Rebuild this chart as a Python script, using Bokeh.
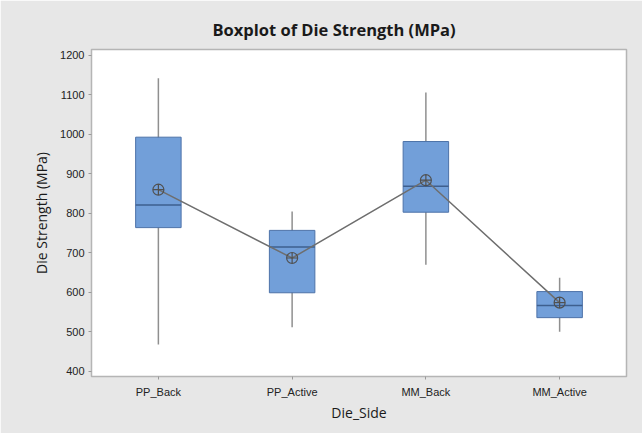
from bokeh.plotting import figure
from bokeh.models import Range1d, FixedTicker, ColumnDataSource
from bokeh.transform import dodge
from bokeh.embed import file_html
from bokeh.resources import INLINE

# ---- data ----
categories = ["PP_Back", "PP_Active", "MM_Back", "MM_Active"]
whisker_low = [468, 512, 670, 500]
q1 = [764, 599, 803, 536]
median = [821, 715, 869, 567]
q3 = [993, 757, 982, 602]
whisker_high = [1142, 805, 1106, 637]
mean = [860, 687, 884, 574]
y_ticks = [400, 500, 600, 700, 800, 900, 1000, 1100, 1200]

BG = "#e7e7e7"
BOX_FILL = "#729fd9"
BOX_EDGE = "#4d72a8"
MEDIAN = "#3e5f8e"
WHISKER = "#8f8f8f"
MEAN_LINE = "#6e6e6e"
BOX_W = 0.34

src = ColumnDataSource(dict(cat=categories, lo=whisker_low, q1=q1, med=median,
                            q3=q3, hi=whisker_high, mean=mean))

p = figure(x_range=categories, y_range=Range1d(387, 1215),
           width=642, height=433, output_backend="svg", toolbar_location=None,
           min_border_left=91, min_border_right=16, min_border_top=49, min_border_bottom=57)

p.title.text = "Boxplot of Die Strength (MPa)"
p.title.align = "left"
p.title.offset = 121
p.title.text_font = "Open Sans"
p.title.text_font_style = "bold"
p.title.text_font_size = "16.5px"
p.title.text_color = "#1a1a1a"
p.title.standoff = 17

p.border_fill_color = BG
p.background_fill_color = "white"
p.outline_line_color = "#b5b5b5"
p.outline_line_width = 1.5
p.grid.grid_line_color = None

# whiskers
p.segment(x0="cat", y0="lo", x1="cat", y1="hi", source=src, line_color=WHISKER, line_width=1.5)
# boxes
p.vbar(x="cat", top="q3", bottom="q1", width=BOX_W, source=src,
       fill_color=BOX_FILL, line_color=BOX_EDGE, line_width=1)
# medians
p.segment(x0=dodge("cat", -BOX_W / 2, range=p.x_range), y0="med",
          x1=dodge("cat", BOX_W / 2, range=p.x_range), y1="med",
          source=src, line_color=MEDIAN, line_width=1.5)
# mean connect line
p.line(x="cat", y="mean", source=src, line_color=MEAN_LINE, line_width=1.5)
p.scatter(x="cat", y="mean", source=src, marker="circle_cross", size=11,
          fill_color=None, line_color="#505050", line_width=1.2)

for ax in (p.xaxis[0], p.yaxis[0]):
    ax.axis_line_color = None
    ax.major_tick_line_color = "#9a9a9a"
    ax.major_tick_out = 3
    ax.major_tick_in = 0
    ax.minor_tick_line_color = None
    ax.major_label_text_font = "Liberation Sans"
    ax.major_label_text_font_size = "11px"
    ax.major_label_text_color = "#222222"
    ax.axis_label_text_font = "Open Sans"
    ax.axis_label_text_font_style = "normal"
    ax.axis_label_text_font_size = "14px"
    ax.axis_label_text_color = "#1a1a1a"

p.yaxis.ticker = FixedTicker(ticks=y_ticks)
p.yaxis.axis_label = "Die Strength (MPa)"
p.yaxis.major_label_standoff = 4
p.yaxis.axis_label_standoff = 6
p.xaxis.axis_label = "Die_Side"
p.xaxis.major_label_standoff = 6
p.xaxis.axis_label_standoff = 2

open("out.html", "w").write(file_html(p, INLINE))
